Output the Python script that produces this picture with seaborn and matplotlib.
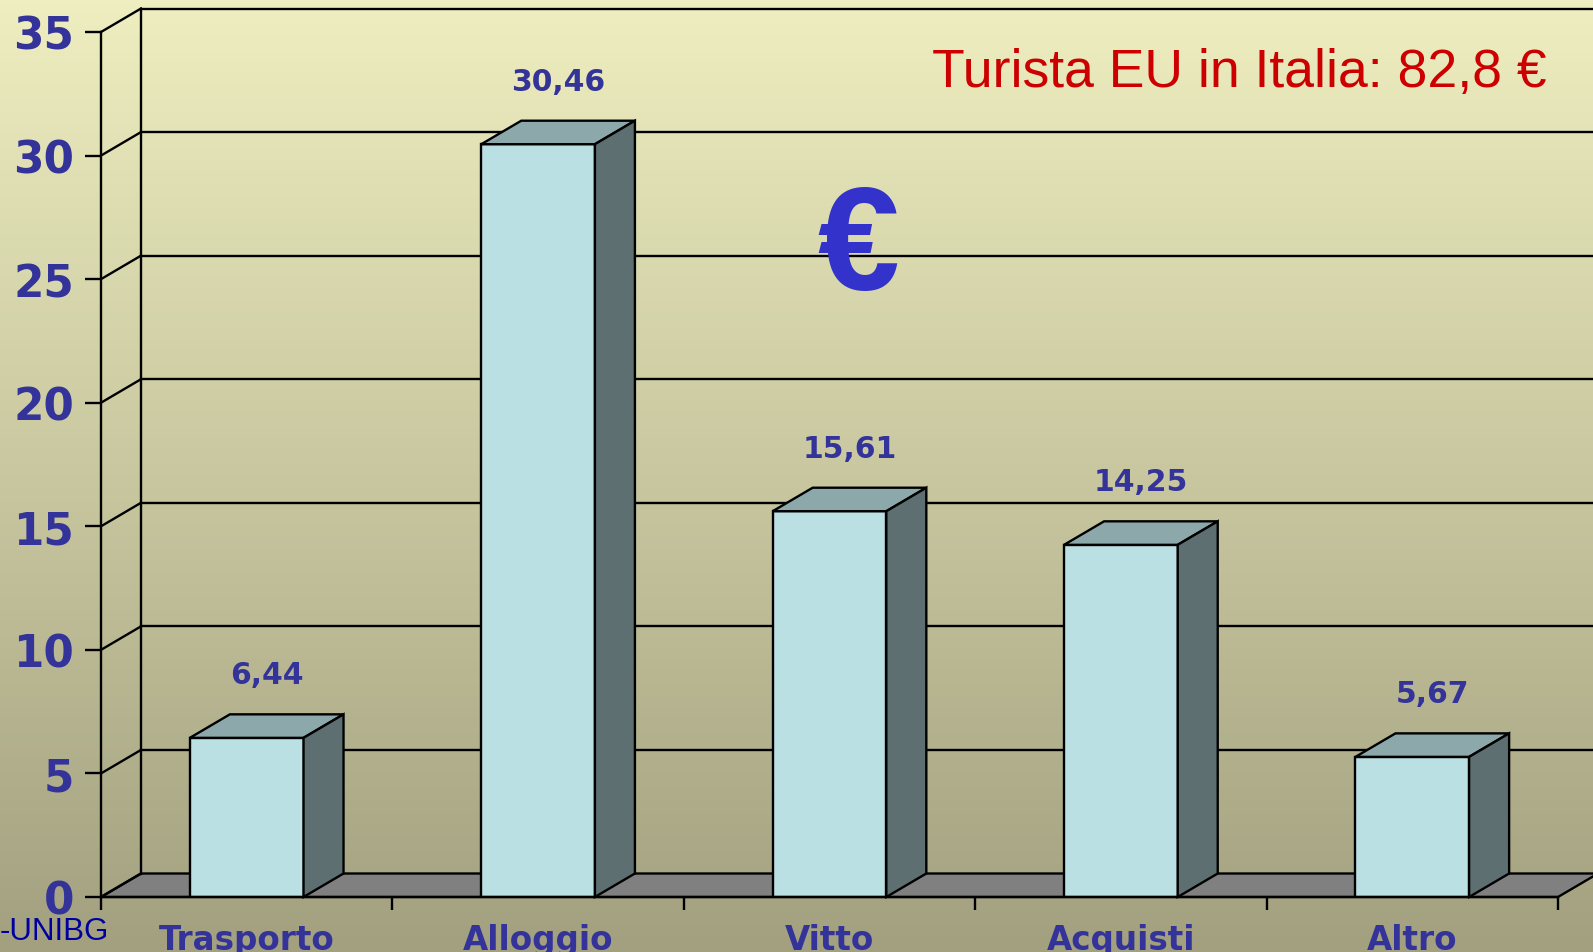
import numpy as np
import matplotlib
matplotlib.use("Agg")
import matplotlib.pyplot as plt
from matplotlib.patches import Polygon
import seaborn as sns

# data
categories = ["Trasporto", "Alloggio", "Vitto", "Acquisti", "Altro"]
values = [6.44, 30.46, 15.61, 14.25, 5.67]
value_labels = ["6,44", "30,46", "15,61", "14,25", "5,67"]
y_ticks = [0, 5, 10, 15, 20, 25, 30, 35]
title_text = "Turista EU in Italia: 82,8 €"

# style
blue = "#333399"
front_col = "#BBE0E3"
top_col = "#8CA8AA"
side_col = "#5D6F71"
floor_col = "#808080"
lw = 1.7

W, H = 1593, 953
fig = plt.figure(figsize=(W / 100, H / 100), dpi=100)

# gradient background
bg = fig.add_axes([0, 0, 1, 1])
top_rgb = np.array([238, 238, 192]) / 255
bot_rgb = np.array([162, 160, 127]) / 255
t = np.linspace(0, 1, 256)[:, None]
grad = top_rgb[None, :] * (1 - t) + bot_rgb[None, :] * t
bg.imshow(grad[:, None, :], aspect="auto", extent=[0, 1, 0, 1])
bg.axis("off")

# plot area (front plane)
left, right, top, bottom = 101, 1558, 33, 898
ax = fig.add_axes([left / W, 1 - bottom / H, (right - left) / W, (bottom - top) / H])
ax.patch.set_alpha(0)

sns.barplot(x=categories, y=values, color=front_col, saturation=1, width=0.39,
            edgecolor="black", linewidth=lw, ax=ax, zorder=3)

ax.set_xlim(-0.5, 4.5)
ax.set_ylim(0, 35)
ax.set_xlabel("")
ax.set_ylabel("")

# depth offset (in data units)
dx = 40 / ((right - left) / 5)
dy = 23.5 / ((bottom - top) / 35)

# floor
floor = Polygon([(-0.5, 0), (4.5, 0), (4.5 + dx, dy), (-0.5 + dx, dy)], closed=True,
                facecolor=floor_col, edgecolor="black", lw=lw, zorder=1, clip_on=False)
ax.add_patch(floor)

# walls & gridlines
for v in y_ticks:
    ax.plot([-0.5, -0.5 + dx], [v, v + dy], color="black", lw=lw, clip_on=False, zorder=1.5)
    if v > 0:
        ax.plot([-0.5 + dx, 4.8], [v + dy, v + dy], color="black", lw=lw, clip_on=False, zorder=1.5)
ax.plot([-0.5 + dx, -0.5 + dx], [dy, 35 + dy], color="black", lw=lw, clip_on=False, zorder=1.5)

# 3D bar tops, sides and labels
for p, lab in zip(ax.patches[:len(values)], value_labels):
    x0 = p.get_x()
    x1 = x0 + p.get_width()
    h = p.get_height()
    ax.add_patch(Polygon([(x0, h), (x1, h), (x1 + dx, h + dy), (x0 + dx, h + dy)], closed=True,
                         facecolor=top_col, edgecolor="black", lw=lw, zorder=3, clip_on=False))
    ax.add_patch(Polygon([(x1, 0), (x1 + dx, dy), (x1 + dx, h + dy), (x1, h)], closed=True,
                         facecolor=side_col, edgecolor="black", lw=lw, zorder=3, clip_on=False))
    ax.text((x0 + x1) / 2 + 0.07, h + 2.55, lab, ha="center", va="center",
            fontsize=21.5, fontweight="bold", color=blue, family="DejaVu Sans")

# spines & ticks
for s in ["top", "right"]:
    ax.spines[s].set_visible(False)
ax.spines["left"].set_linewidth(lw)
ax.spines["bottom"].set_linewidth(lw)
ax.spines["left"].set_zorder(4)
ax.spines["bottom"].set_zorder(4)

ax.set_yticks(y_ticks)
ax.set_yticklabels([str(v) for v in y_ticks])
ax.tick_params(axis="y", length=11.5, width=lw, pad=8, labelsize=31.5, labelcolor=blue)
ax.set_xticks(range(len(categories)))
ax.set_xticklabels(categories)
ax.tick_params(axis="x", which="major", length=0, pad=19, labelsize=23.5, labelcolor=blue)
ax.set_xticks(np.arange(-0.5, 5, 1), minor=True)
ax.tick_params(axis="x", which="minor", length=9.5, width=lw, color="black")
for lbl in ax.get_yticklabels() + ax.get_xticklabels():
    lbl.set_fontweight("bold")
    lbl.set_family("DejaVu Sans")
ax.grid(False)

# annotations
ax.text(0.992, 0.937, title_text, transform=ax.transAxes, ha="right", va="baseline",
        fontsize=38.5, color="#CC0000", family="Liberation Sans")
ax.text(0.520, 0.703, "€", transform=ax.transAxes, ha="center", va="baseline",
        fontsize=106, fontweight="bold", color="#3333CC", family="Liberation Sans")
fig.text(0.0, 1 - 932 / H, "-UNIBG", ha="left", va="center",
         fontsize=22.5, color="#0000A0", family="Liberation Sans")

fig.savefig("out.png", dpi=100)
